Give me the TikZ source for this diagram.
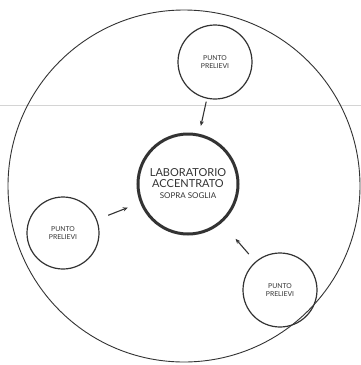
\documentclass[tikz,border=0pt]{standalone}
\usepackage{fontspec}
\setmainfont{Lato}
\usetikzlibrary{arrows.meta}
\definecolor{ink}{HTML}{333333}
\definecolor{scanline}{HTML}{D4D4D4}
\tikzset{
  punto/.style={draw=ink, line width=1.2pt, circle, minimum size=74pt, inner sep=0pt, align=center, text=ink, font=\fontsize{6.8}{8}\selectfont},
  lab/.style={draw=ink, line width=3pt, circle, minimum size=100pt, inner sep=0pt, align=center, text=ink},
  flow/.style={draw=ink, line width=1.1pt, -{Stealth[length=5pt,width=4pt]}}
}
\begin{document}
\begin{tikzpicture}[x=1pt,y=-1pt]
\useasboundingbox (0,0) rectangle (361,365);
\fill[white] (0,0) rectangle (361,365);
\draw[scanline, line width=0.8pt] (0,105) -- (361,105);
\node[draw=ink, line width=0.9pt, circle, minimum size=352pt, inner sep=0pt] (outer) at (184,186) {};
\node[lab] (lab) at (188,184) {{\fontsize{11}{12}\selectfont LABORATORIO}\\[-1pt]{\fontsize{11}{12}\selectfont ACCENTRATO}\\[-1pt]{\fontsize{8}{10}\selectfont SOPRA SOGLIA}};
\node[punto] (ptop) at (215,62) {PUNTO\\PRELIEVI};
\node[punto, minimum size=72pt] (pleft) at (63,233) {PUNTO\\PRELIEVI};
\node[punto] (pright) at (280,290) {PUNTO\\PRELIEVI};
\draw[flow, shorten <=3pt, shorten >=8pt] (ptop) -- (lab);
\draw[flow, shorten <=12pt, shorten >=13pt] (pleft) -- (lab);
\draw[flow, shorten <=10pt, shorten >=21pt] (pright) -- (lab);
\end{tikzpicture}
\end{document}
